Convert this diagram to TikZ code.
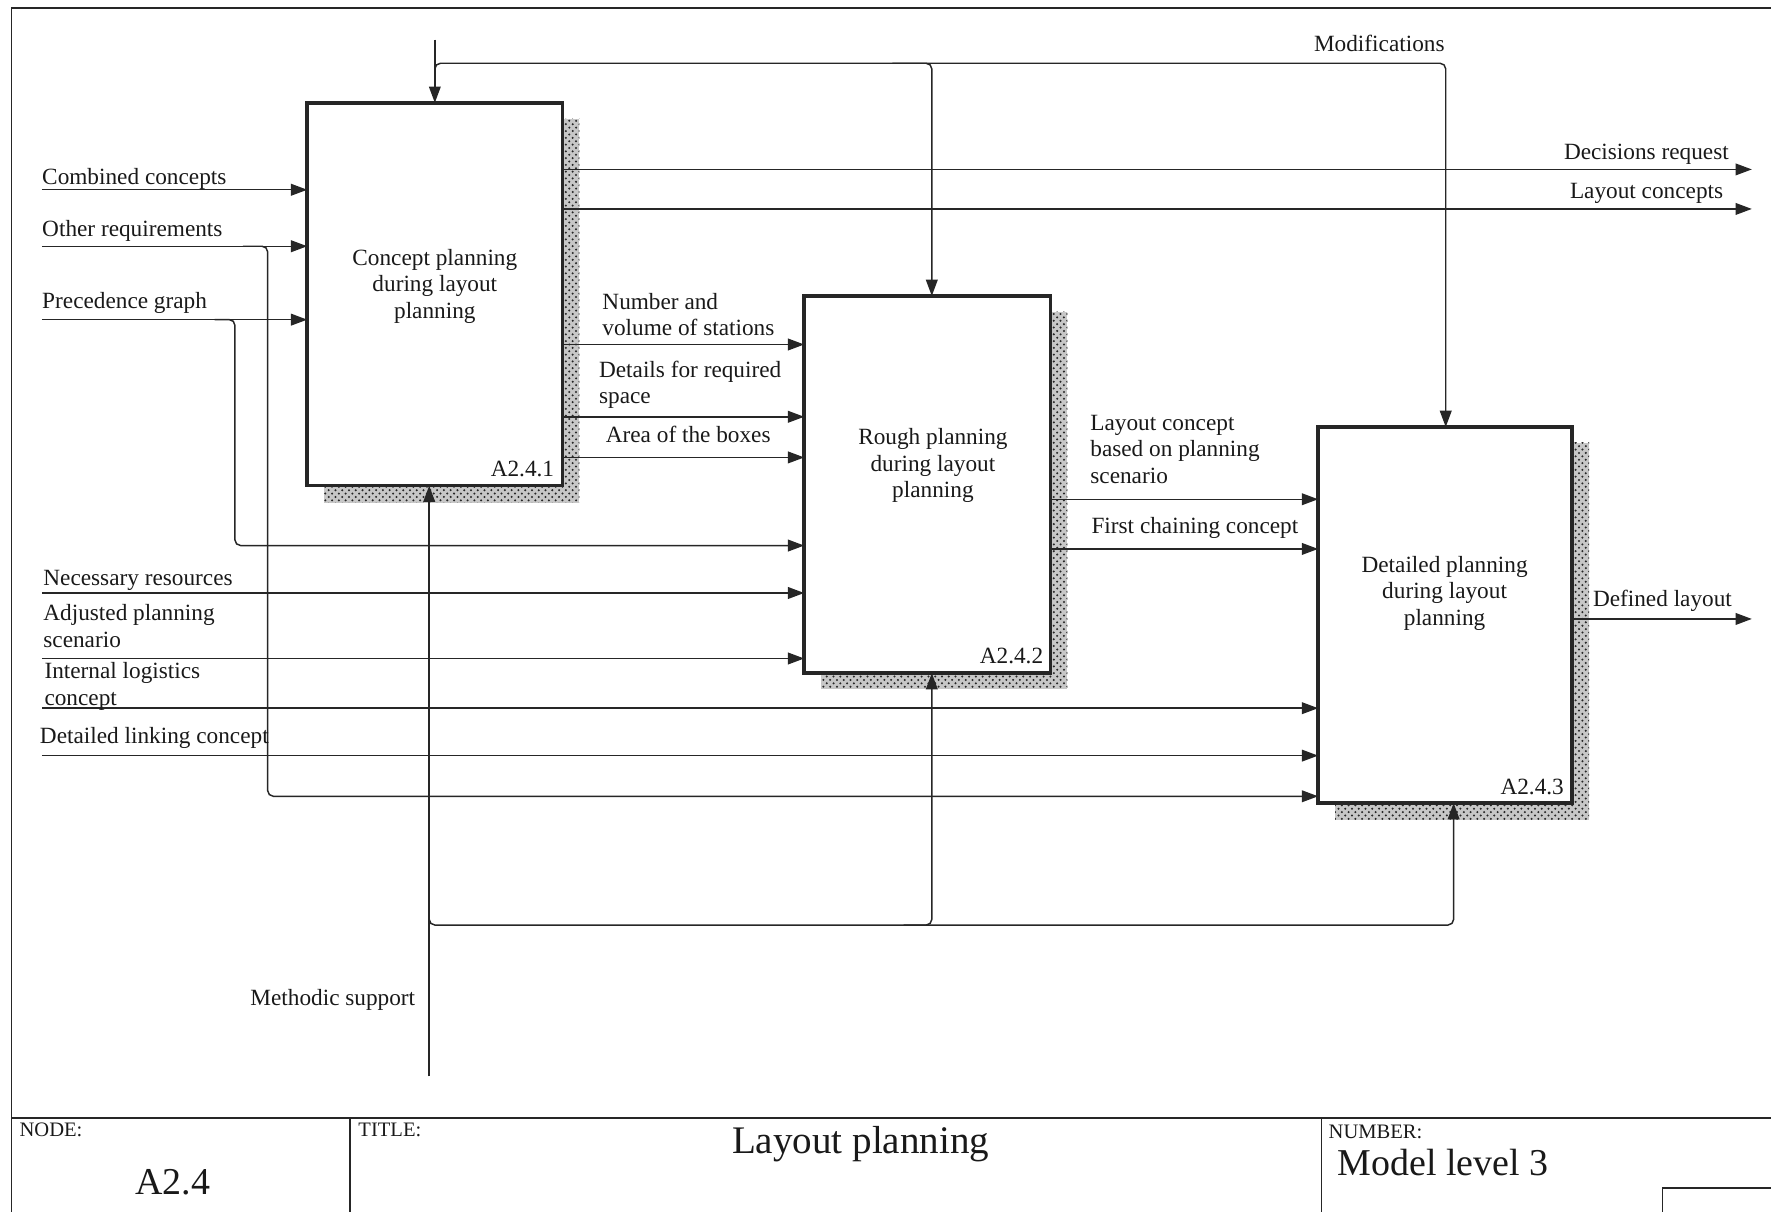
\documentclass[tikz,border=0pt]{standalone}
\usepackage{fontspec}
\setmainfont{Liberation Serif}
\usetikzlibrary{arrows.meta,patterns,calc}

\begin{document}
\begin{tikzpicture}[x=0.5pt,y=-0.5pt,
  conn/.style={line width=0.65pt,color=black!85},
  flow/.style={conn,-{Triangle[length=7.2pt,width=5.2pt]}},
  procbox/.style={draw=black!85,fill=white,line width=1.6pt,outer sep=0pt,inner sep=0pt},
  shadowfill/.style={fill=black!22,postaction={pattern=crosshatch dots,pattern color=black!85}},
  lbl/.style={font=\fontsize{10.3}{11.8}\selectfont,inner sep=0pt,text=black!90},
  boxtxt/.style={lbl,align=center,anchor=north},
  boxid/.style={lbl,anchor=base east},
  frameline/.style={line width=0.7pt,color=black!85},
  small/.style={font=\fontsize{9.1}{11}\selectfont,inner sep=0pt,anchor=base west,text=black!90},
  big/.style={font=\fontsize{16.8}{20}\selectfont,inner sep=0pt,text=black!90}
]
\useasboundingbox (0,0) rectangle (1568,1073);

% drawing frame and title block
\draw[frameline] (10,1073) -- (10,7) -- (1568,7);
\draw[frameline] (10,990) -- (1568,990);
\draw[frameline] (310,990) -- (310,1073);
\draw[frameline] (1170,990) -- (1170,1073);
\draw[frameline] (1472,1073) -- (1472,1052) -- (1568,1052);
\node[small] (tnode) at (17,1006) {NODE:};
\node[small] (ttitle) at (317,1006) {TITLE:};
\node[small] (tnumber) at (1176,1008) {NUMBER:};
\node[big,anchor=base] (tnodeval) at (153,1058) {A2.4};
\node[big,font=\fontsize{17.3}{20}\selectfont,anchor=base] (ttitleval) at (762,1021) {Layout planning};
\node[big,anchor=base west] (tnumval) at (1184,1041) {Model level 3};

% shadows behind the activity boxes
\path[shadowfill] (287,105) rectangle (513,445);
\path[shadowfill] (727,276) rectangle (945,610);
\path[shadowfill] (1182,392) rectangle (1407,726);

% activity boxes
\node[procbox,minimum width=113pt,minimum height=169.5pt] (b1) at (385,260.5) {};
\node[procbox,minimum width=109pt,minimum height=167pt] (b2) at (821,429) {};
\node[procbox,minimum width=112.5pt,minimum height=166.5pt] (b3) at (1279.5,544.5) {};

\node[boxtxt] (b1t) at (385,220) {Concept planning\\during layout\\planning};
\node[boxtxt] (b2t) at (826,379) {Rough planning\\during layout\\planning};
\node[boxtxt] (b3t) at (1279,492) {Detailed planning\\during layout\\planning};
\node[boxid] (b1id) at (491,422) {A2.4.1};
\node[boxid] (b2id) at (924,587) {A2.4.2};
\node[boxid] (b3id) at (1385,703) {A2.4.3};

% end points of the connectors
\coordinate (iComb) at (37,168);
\coordinate (iOther) at (37,218);
\coordinate (iPrec) at (37,283);
\coordinate (iRes) at (37,525);
\coordinate (iAdj) at (37,583);
\coordinate (iLog) at (37,627);
\coordinate (iLink) at (37,669);
\coordinate (oDec) at (1551,150);
\coordinate (oLay) at (1551,185);
\coordinate (oDef) at (1551,548);
\coordinate (cTop) at (385,35);
\coordinate (c2) at (825,56);
\coordinate (c3) at (1280,56);
\coordinate (mBot) at (380,953);
\coordinate (m2) at (825,819);
\coordinate (m3) at (1287,819);
\coordinate (pTurn) at (208,483);
\coordinate (oTurn) at (237,705);

% inputs
\draw[flow] (iComb) -- (b1.west |- iComb);
\draw[flow] (iOther) -- (b1.west |- iOther);
\draw[flow] (iPrec) -- (b1.west |- iPrec);
\draw[flow,rounded corners=2.5pt] (190,283) -| (pTurn) -- (b2.west |- pTurn);
\draw[flow,rounded corners=2.5pt] (215,218) -| (oTurn) -- (b3.west |- oTurn);
\draw[flow] (iRes) -- (b2.west |- iRes);
\draw[flow] (iAdj) -- (b2.west |- iAdj);
\draw[flow] (iLog) -- (b3.west |- iLog);
\draw[flow] (iLink) -- (b3.west |- iLink);

% controls
\draw[flow] (cTop) -- (cTop |- b1.north);
\draw[flow,rounded corners=2.5pt] (385,66) |- (c3) -- (c3 |- b3.north);
\draw[flow,rounded corners=2.5pt] (790,56) -| (c2 |- b2.north);

% mechanisms
\draw[flow] (mBot) -- (mBot |- b1.south);
\draw[flow,rounded corners=2.5pt] (380,808) |- (m2) -- (m2 |- b2.south);
\draw[flow,rounded corners=2.5pt] (800,819) -| (m3 |- b3.south);

% outputs
\draw[flow] (b1.east |- oDec) -- (oDec);
\draw[flow] (b1.east |- oLay) -- (oLay);
\draw[flow] (b1.east |- 0,305) -- (b2.west |- 0,305);
\draw[flow] (b1.east |- 0,369) -- (b2.west |- 0,369);
\draw[flow] (b1.east |- 0,405) -- (b2.west |- 0,405);
\draw[flow] (b2.east |- 0,442) -- (b3.west |- 0,442);
\draw[flow] (b2.east |- 0,486) -- (b3.west |- 0,486);
\draw[flow] (b3.east |- oDef) -- (oDef);

% arrow labels
\node[lbl,anchor=base west] (lComb) at (37,163) {Combined concepts};
\node[lbl,anchor=base west] (lOther) at (37,209) {Other requirements};
\node[lbl,anchor=base west] (lPrec) at (37,273) {Precedence graph};
\node[lbl,anchor=base west] (lRes) at (38,518) {Necessary resources};
\node[lbl,anchor=north west,align=left] (lAdj) at (38,535) {Adjusted planning\\scenario};
\node[lbl,anchor=north west,align=left] (lLog) at (39,586) {Internal logistics\\concept};
\node[lbl,anchor=base west] (lLink) at (35,658) {Detailed linking concept};
\node[lbl,anchor=base east] (lMeth) at (368,890) {Methodic support};
\node[lbl,anchor=base west] (lMod) at (1163,46) {Modifications};
\node[lbl,anchor=base east] (lDec) at (1531,141) {Decisions request};
\node[lbl,anchor=base east] (lLay) at (1526,176) {Layout concepts};
\node[lbl,anchor=north west,align=left] (lNum) at (533,259) {Number and\\volume of stations};
\node[lbl,anchor=north west,align=left] (lSpace) at (530,319) {Details for required\\space};
\node[lbl,anchor=base west] (lArea) at (536,392) {Area of the boxes};
\node[lbl,anchor=north west,align=left] (lScen) at (965,367) {Layout concept\\based on planning\\scenario};
\node[lbl,anchor=base west] (lChain) at (966,472) {First chaining concept};
\node[lbl,anchor=base west] (lDef) at (1410,537) {Defined layout};
\end{tikzpicture}
\end{document}
